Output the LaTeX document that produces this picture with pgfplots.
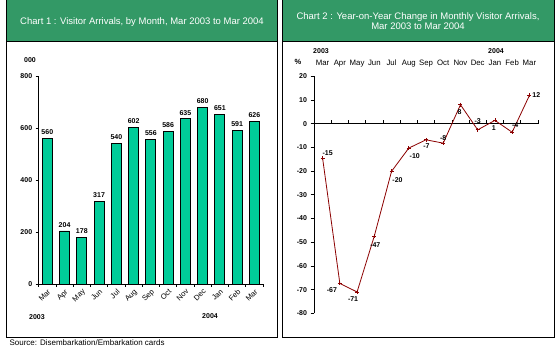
\documentclass[border=0pt]{standalone}
\usepackage{fontspec}
\setmainfont{Liberation Sans}
\usepackage{pgfplots}
\pgfplotsset{compat=1.18}
\definecolor{titlegreen}{HTML}{339966}
\definecolor{barfill}{HTML}{00CC99}
\definecolor{linered}{HTML}{8B0000}

\pgfplotstableread{
x y lab dx dy
0 -14.6 -15 5 5
1 -67.4 -67 -8 -7
2 -71.0 -71 -4 -7
3 -47.4 -47 1 -9
4 -20.1 -20 6 -9
5 -10.3 -10 6 -8
6 -6.8 -7 0.5 -6
7 -8.2 -8 0 5
8 8.0 8 -1 -7
9 -2.6 -3 0 9
10 1.4 1 -1 -8
11 -3.6 -4 3 7
12 11.9 12 7 0
}\yoytable

\begin{document}
\begin{tikzpicture}
\useasboundingbox (0pt,0pt) rectangle (557pt,363pt);
% panels
\fill[titlegreen] (6pt,321.5pt) rectangle (277pt,363pt);
\fill[titlegreen] (282.5pt,321.5pt) rectangle (554pt,363pt);
\draw[black, line width=0.9pt] (6pt,363pt) -- (6pt,25.5pt) -- (277pt,25.5pt) -- (277pt,363pt);
\draw[black, line width=0.9pt] (6pt,321.5pt) -- (277pt,321.5pt);
\draw[black, line width=0.9pt] (282.5pt,363pt) -- (282.5pt,25.5pt) -- (554pt,25.5pt) -- (554pt,363pt);
\draw[black, line width=0.9pt] (282.5pt,321.5pt) -- (554pt,321.5pt);
\node[white, font=\fontsize{9.5}{10}\selectfont] at (142pt,341pt) {Chart 1 : Visitor Arrivals, by Month, Mar 2003 to Mar 2004};
\node[white, align=center, font=\fontsize{9.5}{10}\selectfont] at (418pt,342pt) {Chart 2 : Year-on-Year Change in Monthly Visitor Arrivals,\\Mar 2003 to Mar 2004};
\node[anchor=west, font=\fontsize{8}{8}\selectfont] at (6pt,20pt) {Source: Disembarkation/Embarkation cards};

% left chart
\begin{axis}[at={(38.7pt,79pt)}, anchor=south west, scale only axis,
  width=224.3pt, height=208pt,
  xmin=-0.5, xmax=12.5, ymin=0, ymax=800,
  axis x line=bottom, axis y line=left,
  axis line style={-, line width=0.8pt},
  ytick={0,200,...,800},
  xtick={-0.5,0.5,...,12.5},
  x tick label as interval,
  xticklabels={Mar,Apr,May,Jun,Jul,Aug,Sep,Oct,Nov,Dec,Jan,Feb,Mar},
  tick style={black, line width=0.7pt},
  tick align=outside,
  major tick length=3pt,
  xticklabel style={rotate=45, anchor=north east, font=\fontsize{7.5}{8}\selectfont, inner sep=1pt},
  yticklabel style={font=\fontsize{7}{8}\selectfont\bfseries},
  /pgf/number format/assume math mode=true,
  clip=false,
]
\addplot[ybar, bar width=10pt, fill=barfill, draw=black, line width=0.8pt,
  nodes near coords, nodes near coords style={font=\fontsize{7}{8}\selectfont\bfseries, black}]
  coordinates {(0,560) (1,204) (2,178) (3,317) (4,540) (5,602) (6,556) (7,586) (8,635) (9,680) (10,651) (11,591) (12,626)};
\end{axis}
\node[font=\fontsize{7}{8}\selectfont\bfseries] at (30pt,303pt) {000};
\node[font=\fontsize{7}{8}\selectfont\bfseries] at (37pt,46pt) {2003};
\node[font=\fontsize{7}{8}\selectfont\bfseries] at (210pt,47pt) {2004};

% right chart
\begin{axis}[at={(314pt,49.7pt)}, anchor=south west, scale only axis,
  width=224pt, height=237pt,
  xmin=-0.5, xmax=12.5, ymin=-80, ymax=20,
  axis x line=middle, axis y line=left,
  axis line style={-, line width=0.7pt},
  ytick={-80,-70,...,20},
  xtick={0.5,1.5,...,12.5},
  xticklabels={},
  x tick style={black, line width=0.7pt, yshift=1.75pt},
  y tick style={black, line width=0.7pt},
  ytick align=outside,
  major tick length=3.5pt,
  yticklabel style={font=\fontsize{7}{8}\selectfont\bfseries},
  /pgf/number format/assume math mode=true,
  clip=false,
]
\addplot[linered, line width=0.8pt, mark=+, mark size=2pt,
  nodes near coords, point meta=explicit symbolic,
  visualization depends on={\thisrow{dx} \as \dx},
  visualization depends on={\thisrow{dy} \as \dy},
  every node near coord/.append style={anchor=center, xshift=\dx pt, yshift=\dy pt,
     font=\fontsize{7}{8}\selectfont\bfseries, black, inner sep=0pt}]
  table[x=x, y=y, meta=lab] {\yoytable};
\end{axis}
\begin{axis}[at={(314pt,49.7pt)}, anchor=south west, scale only axis,
  width=224pt, height=237pt,
  xmin=-0.5, xmax=12.5, ymin=-80, ymax=20,
  axis x line=top, axis y line=none, axis line style={draw=none},
  xtick={0,...,12},
  xticklabels={Mar,Apr,May,Jun,Jul,Aug,Sep,Oct,Nov,Dec,Jan,Feb,Mar},
  major tick length=0pt, x tick style={draw=none},
  xticklabel style={font=\fontsize{7.8}{8}\selectfont, anchor=base, yshift=11pt},
]
\end{axis}
\node[font=\fontsize{7.5}{8}\selectfont\bfseries] at (298pt,301pt) {\%};
\node[font=\fontsize{7}{8}\selectfont\bfseries] at (321pt,312pt) {2003};
\node[font=\fontsize{7}{8}\selectfont\bfseries] at (496pt,312pt) {2004};
\end{tikzpicture}
\end{document}
